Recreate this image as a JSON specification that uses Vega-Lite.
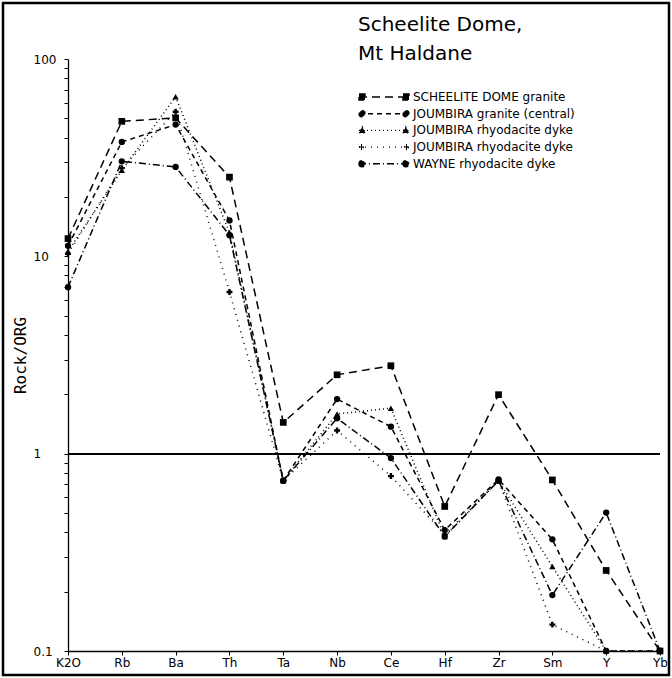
{
  "$schema": "https://vega.github.io/schema/vega-lite/v6.json",
  "autosize": {"type": "none"},
  "padding": 3,
  "width": 666,
  "height": 672,
  "background": "white",
  "config": {
    "view": {"stroke": "black", "strokeWidth": 2.5},
    "font": "DejaVu Sans"
  },
  "title": {
    "text": ["Scheelite Dome,", "Mt Haldane"],
    "anchor": "start",
    "frame": "group",
    "orient": "top",
    "fontSize": 20,
    "fontWeight": "normal",
    "color": "black",
    "lineHeight": 29,
    "baseline": "top",
    "offset": 0,
    "dx": 355,
    "dy": 61
  },
  "data": {
    "values": [
      {"el": "K2O", "series": "SCHEELITE DOME granite", "v": 12.3},
      {"el": "Rb", "series": "SCHEELITE DOME granite", "v": 48.3},
      {"el": "Ba", "series": "SCHEELITE DOME granite", "v": 50.3},
      {"el": "Th", "series": "SCHEELITE DOME granite", "v": 25.2},
      {"el": "Ta", "series": "SCHEELITE DOME granite", "v": 1.44},
      {"el": "Nb", "series": "SCHEELITE DOME granite", "v": 2.51},
      {"el": "Ce", "series": "SCHEELITE DOME granite", "v": 2.79},
      {"el": "Hf", "series": "SCHEELITE DOME granite", "v": 0.54},
      {"el": "Zr", "series": "SCHEELITE DOME granite", "v": 1.99},
      {"el": "Sm", "series": "SCHEELITE DOME granite", "v": 0.736},
      {"el": "Y", "series": "SCHEELITE DOME granite", "v": 0.256},
      {"el": "Yb", "series": "SCHEELITE DOME granite", "v": 0.1},

      {"el": "K2O", "series": "JOUMBIRA granite (central)", "v": 11.3},
      {"el": "Rb", "series": "JOUMBIRA granite (central)", "v": 38},
      {"el": "Ba", "series": "JOUMBIRA granite (central)", "v": 46.5},
      {"el": "Th", "series": "JOUMBIRA granite (central)", "v": 15.2},
      {"el": "Ta", "series": "JOUMBIRA granite (central)", "v": 0.73},
      {"el": "Nb", "series": "JOUMBIRA granite (central)", "v": 1.89},
      {"el": "Ce", "series": "JOUMBIRA granite (central)", "v": 1.37},
      {"el": "Hf", "series": "JOUMBIRA granite (central)", "v": 0.41},
      {"el": "Zr", "series": "JOUMBIRA granite (central)", "v": 0.74},
      {"el": "Sm", "series": "JOUMBIRA granite (central)", "v": 0.368},
      {"el": "Y", "series": "JOUMBIRA granite (central)", "v": 0.1},
      {"el": "Yb", "series": "JOUMBIRA granite (central)", "v": 0.1},

      {"el": "K2O", "series": "JOUMBIRA rhyodacite dyke (a)", "v": 10.6},
      {"el": "Rb", "series": "JOUMBIRA rhyodacite dyke (a)", "v": 27.3},
      {"el": "Ba", "series": "JOUMBIRA rhyodacite dyke (a)", "v": 64.3},
      {"el": "Th", "series": "JOUMBIRA rhyodacite dyke (a)", "v": 13.2},
      {"el": "Ta", "series": "JOUMBIRA rhyodacite dyke (a)", "v": 0.73},
      {"el": "Nb", "series": "JOUMBIRA rhyodacite dyke (a)", "v": 1.59},
      {"el": "Ce", "series": "JOUMBIRA rhyodacite dyke (a)", "v": 1.7},
      {"el": "Hf", "series": "JOUMBIRA rhyodacite dyke (a)", "v": 0.38},
      {"el": "Zr", "series": "JOUMBIRA rhyodacite dyke (a)", "v": 0.73},
      {"el": "Sm", "series": "JOUMBIRA rhyodacite dyke (a)", "v": 0.268},
      {"el": "Y", "series": "JOUMBIRA rhyodacite dyke (a)", "v": 0.1},
      {"el": "Yb", "series": "JOUMBIRA rhyodacite dyke (a)", "v": 0.1},

      {"el": "K2O", "series": "JOUMBIRA rhyodacite dyke (b)", "v": 10.3},
      {"el": "Rb", "series": "JOUMBIRA rhyodacite dyke (b)", "v": 28},
      {"el": "Ba", "series": "JOUMBIRA rhyodacite dyke (b)", "v": 54},
      {"el": "Th", "series": "JOUMBIRA rhyodacite dyke (b)", "v": 6.6},
      {"el": "Ta", "series": "JOUMBIRA rhyodacite dyke (b)", "v": 0.73},
      {"el": "Nb", "series": "JOUMBIRA rhyodacite dyke (b)", "v": 1.31},
      {"el": "Ce", "series": "JOUMBIRA rhyodacite dyke (b)", "v": 0.77},
      {"el": "Hf", "series": "JOUMBIRA rhyodacite dyke (b)", "v": 0.39},
      {"el": "Zr", "series": "JOUMBIRA rhyodacite dyke (b)", "v": 0.73},
      {"el": "Sm", "series": "JOUMBIRA rhyodacite dyke (b)", "v": 0.136},
      {"el": "Y", "series": "JOUMBIRA rhyodacite dyke (b)", "v": 0.1},
      {"el": "Yb", "series": "JOUMBIRA rhyodacite dyke (b)", "v": 0.1},

      {"el": "K2O", "series": "WAYNE rhyodacite dyke", "v": 6.98},
      {"el": "Rb", "series": "WAYNE rhyodacite dyke", "v": 30.3},
      {"el": "Ba", "series": "WAYNE rhyodacite dyke", "v": 28.4},
      {"el": "Th", "series": "WAYNE rhyodacite dyke", "v": 12.8},
      {"el": "Ta", "series": "WAYNE rhyodacite dyke", "v": 0.73},
      {"el": "Nb", "series": "WAYNE rhyodacite dyke", "v": 1.51},
      {"el": "Ce", "series": "WAYNE rhyodacite dyke", "v": 0.95},
      {"el": "Hf", "series": "WAYNE rhyodacite dyke", "v": 0.38},
      {"el": "Zr", "series": "WAYNE rhyodacite dyke", "v": 0.73},
      {"el": "Sm", "series": "WAYNE rhyodacite dyke", "v": 0.192},
      {"el": "Y", "series": "WAYNE rhyodacite dyke", "v": 0.503},
      {"el": "Yb", "series": "WAYNE rhyodacite dyke", "v": 0.1}
    ]
  },
  "encoding": {
    "x": {
      "field": "el",
      "type": "nominal",
      "sort": null,
      "scale": {
        "type": "point",
        "padding": 0,
        "domain": ["K2O", "Rb", "Ba", "Th", "Ta", "Nb", "Ce", "Hf", "Zr", "Sm", "Y", "Yb"],
        "range": [65, 657]
      },
      "axis": {
        "orient": "bottom",
        "offset": -24,
        "title": null,
        "labelAngle": 0,
        "tickSize": 4,
        "tickColor": "black",
        "domainColor": "black",
        "domainWidth": 1.3,
        "labelColor": "black",
        "labelFontSize": 12,
        "labelPadding": 2,
        "grid": false
      }
    },
    "y": {
      "field": "v",
      "type": "quantitative",
      "scale": {"type": "log", "domain": [0.1, 100], "range": [648, 56]},
      "axis": {
        "orient": "left",
        "offset": -65,
        "grid": false,
        "values": [0.1, 0.2, 0.3, 0.4, 0.5, 0.6, 0.7, 0.8, 0.9, 1, 2, 3, 4, 5, 6, 7, 8, 9, 10, 20, 30, 40, 50, 60, 70, 80, 90, 100],
        "labelExpr": "datum.value == 0.1 ? '0.1' : datum.value == 1 ? '1' : datum.value == 10 ? '10' : datum.value == 100 ? '100' : ''",
        "tickSize": 4,
        "tickColor": "black",
        "domainColor": "black",
        "domainWidth": 1.3,
        "labelColor": "black",
        "labelFontSize": 12,
        "labelAlign": "left",
        "labelPadding": 31,
        "labelFlush": false,
        "labelOverlap": false,
        "title": "Rock/ORG",
        "titleFont": "DejaVu Sans Mono",
        "titleFontSize": 16,
        "titleFontWeight": "normal",
        "titleColor": "black",
        "titlePadding": 5
      }
    }
  },
  "layer": [
    {
      "mark": {"type": "rule", "color": "black", "strokeWidth": 1.3},
      "encoding": {
        "x": {"datum": "K2O"},
        "x2": {"datum": "Yb"},
        "y": {"datum": 1}
      }
    },
    {
      "mark": {"type": "line", "color": "black", "strokeWidth": 1.5},
      "encoding": {
        "strokeDash": {
          "field": "series",
          "type": "nominal",
          "scale": {
            "domain": ["SCHEELITE DOME granite", "JOUMBIRA granite (central)", "JOUMBIRA rhyodacite dyke (a)", "JOUMBIRA rhyodacite dyke (b)", "WAYNE rhyodacite dyke"],
            "range": [[8, 5], [5, 4], [1, 3], [1, 5], [7, 3, 1, 3]]
          },
          "legend": {
            "orient": "none",
            "legendX": 355,
            "legendY": 86,
            "title": null,
            "symbolType": "M-1,0H1",
            "symbolSize": 2500,
            "symbolStrokeColor": "black",
            "symbolStrokeWidth": 1.4,
            "clipHeight": 16,
            "rowPadding": 0.7,
            "labelOffset": 3,
            "labelFontSize": 12,
            "labelColor": "black",
            "labelFont": "DejaVu Sans",
            "labelLimit": 300,
            "labelExpr": "datum.label == 'JOUMBIRA rhyodacite dyke (a)' || datum.label == 'JOUMBIRA rhyodacite dyke (b)' ? 'JOUMBIRA rhyodacite dyke' : datum.label",
            "encode": {
              "symbols": {
                "update": {
                  "shape": {"signal": "datum.value == 'SCHEELITE DOME granite' ? 'M-1,0H1M-1,-0.12h0.24v0.24h-0.24zM0.76,-0.12h0.24v0.24h-0.24z' : datum.value == 'JOUMBIRA rhyodacite dyke (a)' ? 'M-1,0H1M-0.87,-0.14L-0.74,0.1L-1,0.1ZM0.87,-0.14L1,0.1L0.74,0.1Z' : datum.value == 'JOUMBIRA rhyodacite dyke (b)' ? 'M-1,0H1M-1,-0.02h0.2v0.04h-0.2zM-0.92,-0.1h0.04v0.2h-0.04zM0.8,-0.02h0.2v0.04h-0.2zM0.88,-0.1h0.04v0.2h-0.04z' : 'M-1,0H1M-1,0a0.12,0.12 0 1,0 0.24,0a0.12,0.12 0 1,0 -0.24,0M0.76,0a0.12,0.12 0 1,0 0.24,0a0.12,0.12 0 1,0 -0.24,0'"},
                  "size": {"value": 2500},
                  "fill": {"value": "black"},
                  "stroke": {"value": "black"},
                  "opacity": {"value": 1}
                }
              }
            }
          }
        }
      }
    },
    {
      "transform": [{"filter": "datum.series == 'SCHEELITE DOME granite'"}],
      "mark": {"type": "point", "shape": "square", "filled": true, "color": "black", "opacity": 1, "size": 45}
    },
    {
      "transform": [{"filter": "datum.series == 'JOUMBIRA granite (central)' || datum.series == 'WAYNE rhyodacite dyke'"}],
      "mark": {"type": "point", "shape": "circle", "filled": true, "color": "black", "opacity": 1, "size": 40}
    },
    {
      "transform": [{"filter": "datum.series == 'JOUMBIRA rhyodacite dyke (a)'"}],
      "mark": {"type": "point", "shape": "triangle-up", "filled": true, "color": "black", "opacity": 1, "size": 40}
    },
    {
      "transform": [{"filter": "datum.series == 'JOUMBIRA rhyodacite dyke (b)'"}],
      "mark": {"type": "point", "shape": "cross", "filled": true, "color": "black", "opacity": 1, "size": 35}
    }
  ]
}
